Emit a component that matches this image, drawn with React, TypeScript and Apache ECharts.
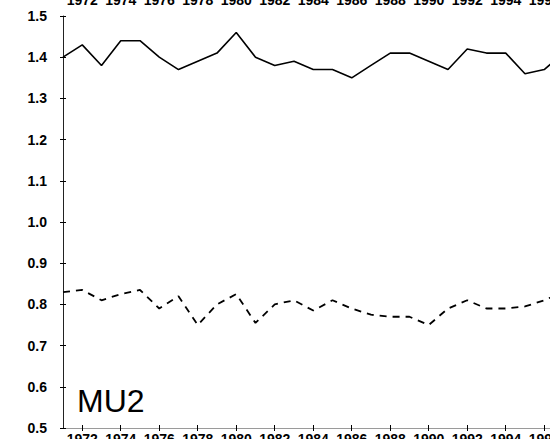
import React, { useEffect, useRef } from "react";
import * as echarts from "echarts";

// Annual series, 1971–1997
const years = [
  1971, 1972, 1973, 1974, 1975, 1976, 1977, 1978, 1979, 1980, 1981, 1982, 1983, 1984,
  1985, 1986, 1987, 1988, 1989, 1990, 1991, 1992, 1993, 1994, 1995, 1996, 1997,
];
const upperSeries = [
  1.40, 1.43, 1.38, 1.44, 1.44, 1.40, 1.37, 1.39, 1.41, 1.46, 1.40, 1.38, 1.39, 1.37,
  1.37, 1.35, 1.38, 1.41, 1.41, 1.39, 1.37, 1.42, 1.41, 1.41, 1.36, 1.37, 1.41,
];
const lowerSeries = [
  0.83, 0.835, 0.81, 0.825, 0.835, 0.79, 0.82, 0.75, 0.80, 0.825, 0.755, 0.80, 0.81, 0.785,
  0.81, 0.79, 0.775, 0.77, 0.77, 0.75, 0.79, 0.81, 0.79, 0.79, 0.795, 0.81, 0.83,
];
const yearTicks = [1972, 1974, 1976, 1978, 1980, 1982, 1984, 1986, 1988, 1990, 1992, 1994, 1996];
const panelLabel = "MU2";

const FONT = "'Liberation Sans', Arial, Helvetica, sans-serif";

export default function App() {
  const ref = useRef<HTMLDivElement>(null);

  useEffect(() => {
    if (!ref.current) return;
    const chart = echarts.init(ref.current, null, { renderer: "svg" });

    const labelStyle = {
      fontSize: 14,
      fontWeight: "bold" as const,
      color: "#000",
      fontFamily: FONT,
    };
    const yearLabel = (v: number) => String(Math.round(v));

    chart.setOption({
      animation: false,
      backgroundColor: "#fff",
      grid: { left: 63, top: 16, right: 0, bottom: 11, outerBoundsMode: "none", containLabel: false },
      xAxis: [
        {
          type: "value",
          min: 1971,
          max: 1996.3,
          position: "bottom",
          axisLine: { show: true, lineStyle: { color: "#9a9a9a", width: 1 } },
          axisTick: { show: true, customValues: yearTicks, length: 3, lineStyle: { color: "#000" } },
          axisLabel: { ...labelStyle, customValues: yearTicks, margin: 4, formatter: yearLabel },
          splitLine: { show: false },
        },
        {
          type: "value",
          min: 1971,
          max: 1996.3,
          position: "bottom",
          axisLine: { show: false },
          axisTick: {
            show: true,
            inside: true,
            customValues: yearTicks,
            length: 3,
            lineStyle: { color: "#000" },
          },
          axisLabel: { show: false },
          splitLine: { show: false },
        },
        {
          type: "value",
          min: 1971,
          max: 1996.3,
          position: "top",
          axisLine: { show: false },
          axisTick: { show: false },
          axisLabel: { ...labelStyle, customValues: yearTicks, margin: 9, formatter: yearLabel },
          splitLine: { show: false },
        },
      ],
      yAxis: [
        {
          type: "value",
          min: 0.5,
          max: 1.5,
          interval: 0.1,
          position: "left",
          axisLine: { show: true, lineStyle: { color: "#222", width: 1 } },
          axisTick: { show: true, length: 3, lineStyle: { color: "#000" } },
          axisLabel: {
            ...labelStyle,
            margin: 16,
            formatter: (v: number) => v.toFixed(1),
          },
          splitLine: { show: false },
        },
        {
          type: "value",
          min: 0.5,
          max: 1.5,
          interval: 0.1,
          position: "left",
          offset: 0,
          axisLine: { show: false },
          axisTick: { show: true, inside: true, length: 3, lineStyle: { color: "#000" } },
          axisLabel: { show: false },
          splitLine: { show: false },
        },
      ],
      series: [
        {
          type: "line",
          xAxisIndex: 0,
          yAxisIndex: 0,
          data: years.map((y, i) => [y, upperSeries[i]]),
          symbol: "none",
          lineStyle: { color: "#000", width: 1.6 },
        },
        {
          type: "line",
          xAxisIndex: 0,
          yAxisIndex: 0,
          data: years.map((y, i) => [y, lowerSeries[i]]),
          symbol: "none",
          lineStyle: { color: "#000", width: 1.8, type: [7, 6] },
        },
      ],
      graphic: [
        {
          type: "text",
          left: 77,
          top: 385,
          style: {
            text: panelLabel,
            fontSize: 32,
            fontFamily: FONT,
            fill: "#000",
          },
        },
      ],
    });

    return () => chart.dispose();
  }, []);

  return (
    <div
      ref={ref}
      style={{ position: "absolute", left: 0, top: 0, width: 550, height: 439, background: "#fff" }}
    />
  );
}
